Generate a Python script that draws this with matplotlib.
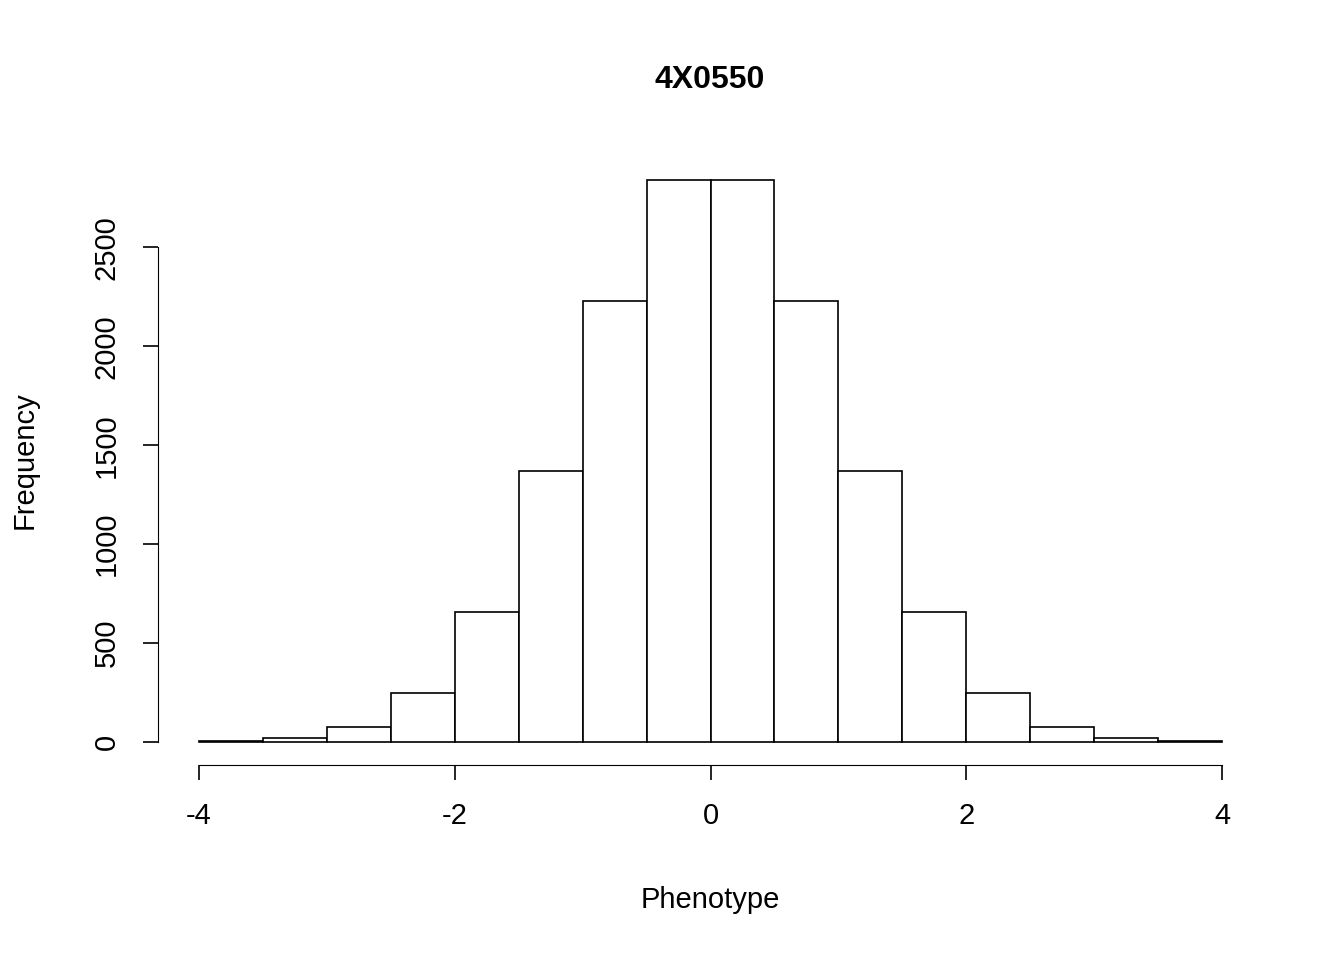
import matplotlib
matplotlib.use("Agg")
import matplotlib.pyplot as plt

bin_edges = [-4, -3.5, -3, -2.5, -2, -1.5, -1, -0.5, 0, 0.5, 1, 1.5, 2, 2.5, 3, 3.5, 4]
counts = [5, 20, 75, 247, 657, 1369, 2227, 2838, 2838, 2227, 1369, 657, 247, 75, 20, 5]
x_ticks = [-4, -2, 0, 2, 4]
y_ticks = [0, 500, 1000, 1500, 2000, 2500]

plt.rcParams['font.family'] = ['Liberation Sans', 'DejaVu Sans']
plt.rcParams['axes.unicode_minus'] = False
fig = plt.figure(figsize=(13.44, 9.6), dpi=100)
ax = fig.add_axes([0.1176, 0.2036, 0.8221, 0.6318])
ax.hist(bin_edges[:-1], bins=bin_edges, weights=counts, facecolor='white', edgecolor='black', linewidth=1.2)
ax.set_xlim(-4.32, 4.32)
ax.set_ylim(-0.04 * max(counts), 1.04 * max(counts))
for s in ['top', 'right']:
    ax.spines[s].set_visible(False)
ax.spines['bottom'].set_bounds(-4, 4)
ax.spines['left'].set_bounds(0, 2500)
ax.set_xticks(x_ticks)
ax.set_yticks(y_ticks)
ax.set_yticklabels([str(v) for v in y_ticks], rotation=90, va='center')
ax.tick_params(length=11, width=1.2, labelsize=21, pad=16)
fig.text(710 / 1344, 1 - 900 / 960, 'Phenotype', fontsize=21, ha='center', va='center')
fig.text(25 / 1344, 1 - 460 / 960, 'Frequency', fontsize=21, ha='center', va='center', rotation=90)
fig.text(710 / 1344, 1 - 80 / 960, '4X0550', fontsize=23, fontweight='bold', ha='center', va='center')
fig.savefig('out.png', dpi=100, facecolor='white')
